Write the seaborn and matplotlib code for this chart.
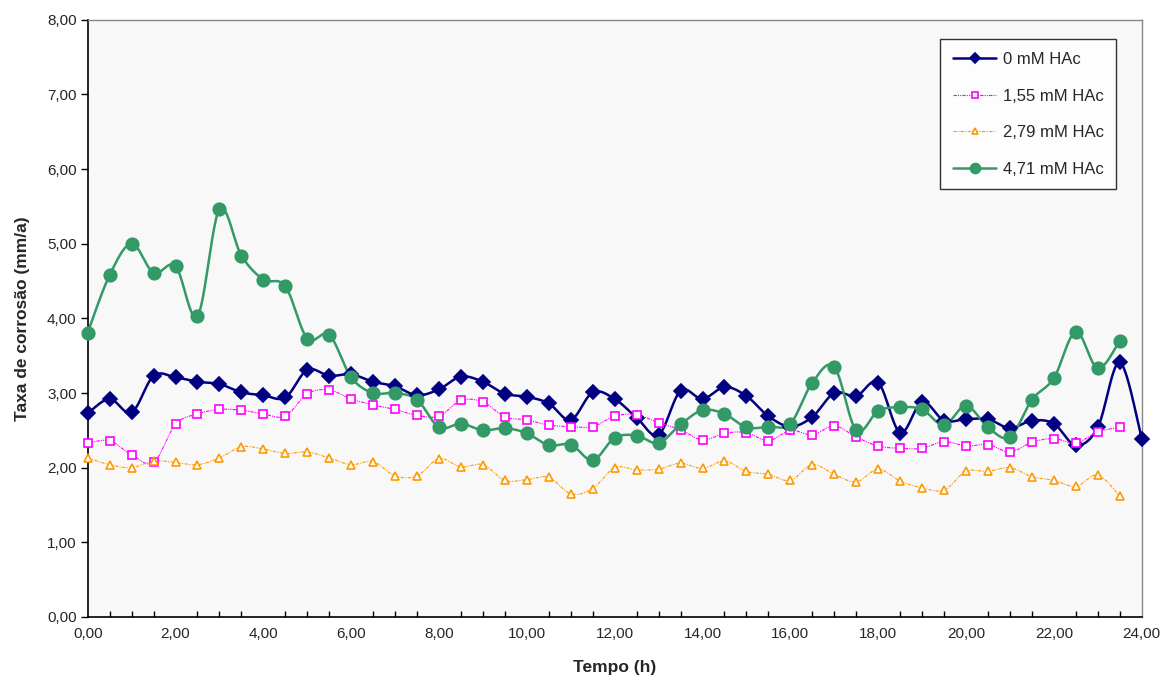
import numpy as np
import pandas as pd
import matplotlib
matplotlib.use("Agg")
import matplotlib.pyplot as plt
from matplotlib.ticker import MultipleLocator, FuncFormatter
from matplotlib.lines import Line2D
import seaborn as sns

# ---- data ----
tempo = [i * 0.5 for i in range(49)]  # 0,00 ... 24,00 h

hac_0 = [2.73, 2.92, 2.74, 3.23, 3.21, 3.15, 3.12, 3.01, 2.97, 2.94,
         3.31, 3.23, 3.25, 3.15, 3.09, 2.97, 3.05, 3.22, 3.15, 2.99,
         2.95, 2.86, 2.64, 3.01, 2.92, 2.67, 2.44, 3.03, 2.92, 3.08,
         2.96, 2.69, 2.55, 2.68, 3.00, 2.96, 3.14, 2.47, 2.88, 2.63,
         2.65, 2.65, 2.53, 2.63, 2.59, 2.30, 2.54, 3.41, 2.39]

hac_155 = [2.33, 2.36, 2.17, 2.07, 2.58, 2.72, 2.78, 2.77, 2.72, 2.69,
           2.99, 3.04, 2.92, 2.84, 2.78, 2.70, 2.69, 2.90, 2.88, 2.68,
           2.64, 2.57, 2.55, 2.55, 2.69, 2.71, 2.60, 2.51, 2.37, 2.46,
           2.47, 2.36, 2.50, 2.44, 2.56, 2.41, 2.29, 2.26, 2.26, 2.35,
           2.29, 2.31, 2.21, 2.34, 2.39, 2.33, 2.48, 2.54]

hac_279 = [2.13, 2.04, 2.00, 2.09, 2.07, 2.04, 2.13, 2.28, 2.25, 2.19,
           2.21, 2.13, 2.04, 2.08, 1.89, 1.89, 2.12, 2.01, 2.04, 1.83,
           1.84, 1.87, 1.65, 1.72, 2.00, 1.97, 1.98, 2.06, 1.99, 2.09,
           1.95, 1.91, 1.83, 2.04, 1.91, 1.81, 1.98, 1.82, 1.73, 1.70,
           1.95, 1.95, 2.00, 1.88, 1.83, 1.75, 1.90, 1.62]

hac_471 = [3.81, 4.58, 5.00, 4.61, 4.70, 4.03, 5.46, 4.84, 4.52, 4.43,
           3.73, 3.78, 3.21, 3.00, 3.00, 2.91, 2.54, 2.59, 2.50, 2.53,
           2.46, 2.30, 2.31, 2.10, 2.40, 2.43, 2.33, 2.58, 2.77, 2.72,
           2.54, 2.55, 2.59, 3.14, 3.35, 2.50, 2.76, 2.81, 2.78, 2.57,
           2.83, 2.54, 2.41, 2.91, 3.20, 3.82, 3.33, 3.70]

series_labels = ["0 mM HAc", "1,55 mM HAc", "2,79 mM HAc", "4,71 mM HAc"]
x_ticks = [0, 2, 4, 6, 8, 10, 12, 14, 16, 18, 20, 22, 24]
y_ticks = [0, 1, 2, 3, 4, 5, 6, 7, 8]


def smooth(x, y, n=24):
    """Excel-like smoothed line (Catmull-Rom Bezier through the points)."""
    P = np.column_stack([x, y]).astype(float)
    P_ext = np.vstack([P[0], P, P[-1]])
    out = []
    t = np.linspace(0, 1, n, endpoint=False)[:, None]
    for i in range(len(P) - 1):
        p0, p1, p2, p3 = P_ext[i], P_ext[i + 1], P_ext[i + 2], P_ext[i + 3]
        c1 = p1 + (p2 - p0) / 6.0
        c2 = p2 - (p3 - p1) / 6.0
        seg = ((1 - t) ** 3) * p1 + 3 * ((1 - t) ** 2) * t * c1 + 3 * (1 - t) * t ** 2 * c2 + t ** 3 * p2
        out.append(seg)
    out.append(P[-1][None, :])
    out = np.vstack(out)
    return pd.DataFrame({"x": out[:, 0], "y": out[:, 1]})


sns.set_theme(style="white")
plt.rcParams["font.family"] = ["Liberation Sans", "DejaVu Sans"]

fig = plt.figure(figsize=(11.63, 6.80), dpi=100)
ax = fig.add_axes([87.7 / 1163, 1 - 617 / 680, (1141.7 - 87.7) / 1163, (617 - 19.7) / 680])
ax.set_facecolor("#F8F8F8")

styles = [
    dict(data=hac_0, color="#000080", lw=1.8, ls="-", marker="D", ms=7, mfc="#000080"),
    dict(data=hac_155, color="#FF00FF", lw=0.8, ls=(0, (3, 1, 1, 1, 1, 1)), marker="s", ms=5.8, mfc="white"),
    dict(data=hac_279, color="#FF9900", lw=0.8, ls=(0, (3, 1.2, 1, 1.2)), marker="^", ms=5.8, mfc="white"),
    dict(data=hac_471, color="#339966", lw=1.8, ls="-", marker="o", ms=9, mfc="#339966"),
]

handles = []
for st, lab in zip(styles, series_labels):
    xs = tempo[:len(st["data"])]
    df_s = smooth(xs, st["data"])
    sns.lineplot(data=df_s, x="x", y="y", ax=ax, color=st["color"], lw=st["lw"],
                 linestyle=st["ls"], sort=False, estimator=None, legend=False)
    df_p = pd.DataFrame({"x": xs, "y": st["data"]})
    ax.plot(df_p["x"], df_p["y"], ls="none", marker=st["marker"], ms=st["ms"],
            mfc=st["mfc"], mec=st["color"], mew=1.2, zorder=3, clip_on=False)
    handles.append(Line2D([0], [0], color=st["color"], lw=st["lw"], ls=st["ls"],
                          marker=st["marker"], ms=st["ms"] * 0.8, mfc=st["mfc"],
                          mec=st["color"], mew=1.2))

ax.set_xlim(0, 24)
ax.set_ylim(0, 8)
ax.set_xticks(x_ticks)
ax.set_yticks(y_ticks)
ax.xaxis.set_minor_locator(MultipleLocator(0.5))
fmt = FuncFormatter(lambda v, p: f"{v:.2f}".replace(".", ","))
ax.xaxis.set_major_formatter(fmt)
ax.yaxis.set_major_formatter(fmt)
ax.tick_params(axis="x", which="major", direction="inout", length=8, width=1, color="black",
               labelsize=11, pad=3)
ax.tick_params(axis="x", which="minor", direction="in", length=4, width=1, color="black", bottom=True)
ax.tick_params(axis="y", which="major", direction="out", length=5, width=1, color="black",
               labelsize=11, left=True, pad=3)

for side in ["left", "bottom"]:
    ax.spines[side].set_color("black")
    ax.spines[side].set_linewidth(1.2)
for side in ["top", "right"]:
    ax.spines[side].set_color("#888888")
    ax.spines[side].set_linewidth(1.0)

ax.set_xlabel("Tempo (h)", fontsize=12.5, fontweight="bold", labelpad=14)
ax.set_ylabel("Taxa de corrosão (mm/a)", fontsize=12.5, fontweight="bold", labelpad=12)

leg = ax.legend(handles, series_labels, loc="upper right", bbox_to_anchor=(0.976, 0.967),
                fontsize=12, frameon=True, fancybox=False, handlelength=2.6,
                labelspacing=1.3, borderpad=0.75, handletextpad=0.4, borderaxespad=0)
leg.get_frame().set_edgecolor("black")
leg.get_frame().set_facecolor("white")
leg.get_frame().set_linewidth(1.0)

fig.savefig("out.png", dpi=100, facecolor="white")
